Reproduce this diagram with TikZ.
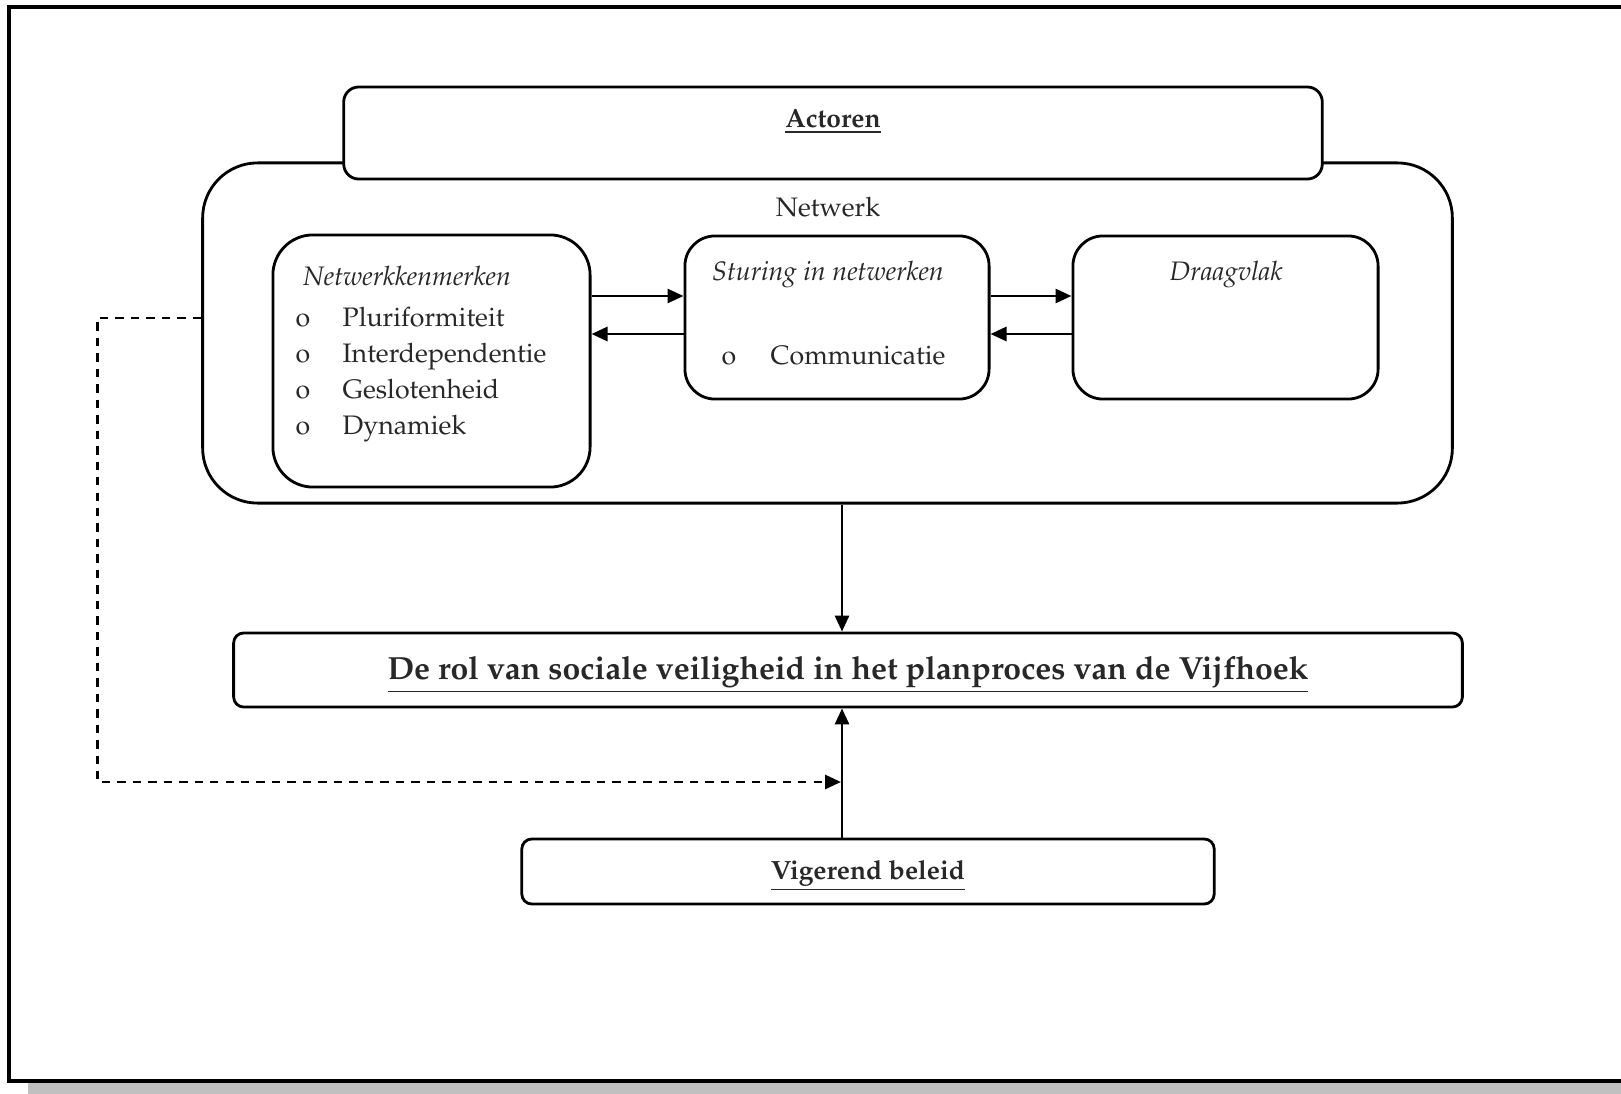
\documentclass[tikz,border=0pt]{standalone}
\usepackage[T1]{fontenc}
\usepackage{mathpazo}
\usepackage{tikz}
\usetikzlibrary{positioning,arrows.meta,calc}
\definecolor{InkGrey}{RGB}{40,40,40}
\definecolor{ShadowGrey}{RGB}{192,192,192}
\tikzset{
  flow/.style={-{Triangle[length=1.6mm,width=1.4mm]},line width=0.8pt,draw=black},
  dashflow/.style={flow,dash pattern=on 2.4pt off 2pt},
  roundbox/.style={draw=black,line width=0.8pt,fill=white,rounded corners=#1,
    inner sep=0pt},
  roundbox/.default=0.15cm,
  label/.style={anchor=base,inner sep=0pt,text=InkGrey},
  boldlabel/.style={label,font=\fontsize{7.5}{9}\selectfont\bfseries},
  titlelabel/.style={label,font=\fontsize{7.6}{10.2}\selectfont\itshape}
}

\begin{document}
\begin{tikzpicture}[x=0.01cm,y=-0.01cm,font=\fontsize{7.6}{10.2}\selectfont]
  \useasboundingbox (0,0) rectangle (1621,1094);
  \clip (0,0) rectangle (1621,1094);
  % page frame with shadow
  \fill[ShadowGrey] (28,1082) rectangle (1640,1094);
  \draw[line width=1pt] (1640,1081) -- (9,1081) -- (9,7) -- (1640,7);

  % network with actors on top
  \node[roundbox=0.55cm,minimum width=12.49cm,minimum height=3.40cm] (net) at (827.5,333) {};
  \node[roundbox,minimum width=9.78cm,minimum height=0.92cm] (actors) at (833,133) {};
  \node[boldlabel] (actors-label) at (833,128) {\underline{Actoren}};
  \node[label] (net-label) at (828,216) {Netwerk};

  % three inner boxes
  \node[roundbox=0.40cm,minimum width=3.17cm,minimum height=2.52cm] (kenmerk) at (431.5,361) {};
  \node[titlelabel] (kenmerk-label) at (407,285) {Netwerkkenmerken};
  \foreach \kenmerk [count=\i] in {Pluriformiteit,Interdependentie,Geslotenheid,Dynamiek} {
    \node[label] (bullet\i) at (303,327+35.8*\i-35.8) {o};
    \node[label,anchor=base west] (kenmerk\i) at (342,327+35.8*\i-35.8) {\kenmerk};
  }

  \node[roundbox=0.30cm,minimum width=3.04cm,minimum height=1.63cm] (sturing) at (837,317.5) {};
  \node[titlelabel] (sturing-label) at (828,281) {Sturing in netwerken};
  \node[label] (bullet-com) at (729,364) {o};
  \node[label,anchor=base west] (communicatie) at (770,364) {Communicatie};

  \node[roundbox=0.30cm,minimum width=3.05cm,minimum height=1.63cm] (draagvlak) at (1225.5,317.5) {};
  \node[titlelabel] (draagvlak-label) at (1226,281) {Draagvlak};

  \draw[flow] (kenmerk.east |- 0,296) -- (sturing.west |- 0,296);
  \draw[flow] (sturing.west |- 0,334) -- (kenmerk.east |- 0,334);
  \draw[flow] (sturing.east |- 0,296) -- (draagvlak.west |- 0,296);
  \draw[flow] (draagvlak.west |- 0,334) -- (sturing.east |- 0,334);

  % research subject and policy
  \node[roundbox=0.10cm,minimum width=12.28cm,minimum height=0.74cm] (rol) at (848,670) {};
  \node[label,font=\fontsize{9.1}{11}\selectfont\bfseries] (rol-label) at (848,679)
    {\underline{De rol van sociale veiligheid in het planproces van de Vijfhoek}};
  \node[roundbox=0.10cm,minimum width=6.92cm,minimum height=0.65cm] (vigerend) at (868,871.5) {};
  \node[boldlabel] (vigerend-label) at (868,879) {\underline{Vigerend beleid}};

  \coordinate (spine) at (842,0);
  \coordinate (dashend) at (841,782);
  \draw[flow] (net.south -| spine) -- (rol.north -| spine);
  \draw[flow] (vigerend.north -| spine) -- (rol.south -| spine);
  \draw[dashflow] (net.west |- 0,318) -- ++(-104,0) |- (dashend);
\end{tikzpicture}
\end{document}
